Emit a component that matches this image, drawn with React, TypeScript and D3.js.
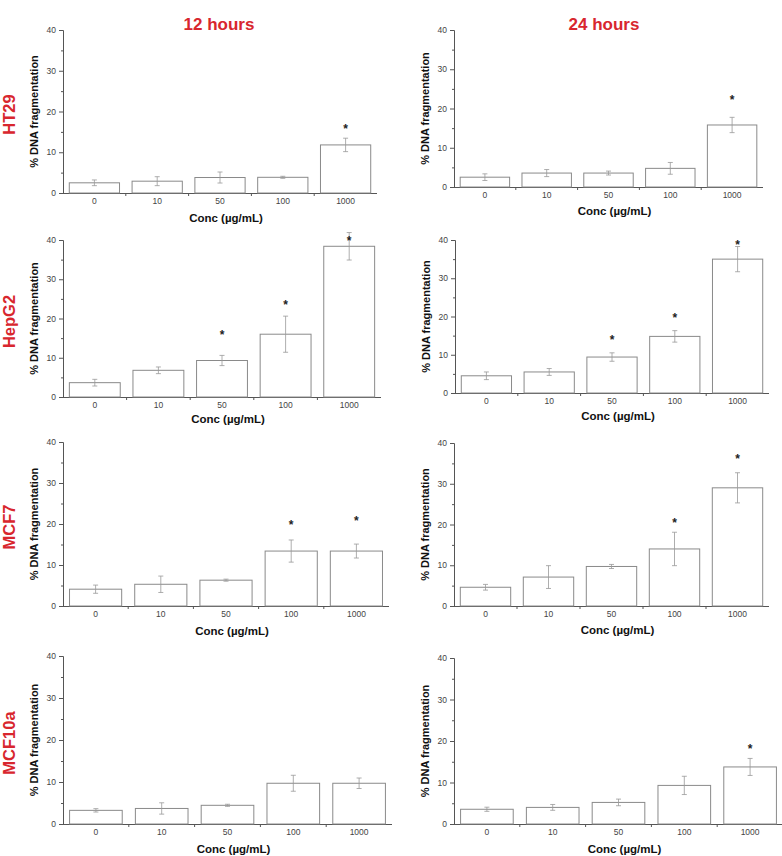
import React, { useEffect, useRef } from "react";
import * as d3 from "d3";

// concentrations (x categories)
const concs = ["0", "10", "50", "100", "1000"];
const timeTitles = ["12 hours", "24 hours"];
const cellLines = ["HT29", "HepG2", "MCF7", "MCF10a"];
const yTicks = [0, 10, 20, 30, 40];

// mean % DNA fragmentation, error (sd) and star position (null = none)
const ht29_12 = [2.5, 2.9, 3.8, 3.85, 11.8];
const ht29_12_err = [0.7, 1.1, 1.35, 0.25, 1.65];
const ht29_12_star = [null, null, null, null, 16];

const ht29_24 = [2.5, 3.55, 3.55, 4.75, 15.8];
const ht29_24_err = [0.85, 0.9, 0.5, 1.5, 1.95];
const ht29_24_star = [null, null, null, null, 22.5];

const hepg2_12 = [3.65, 6.8, 9.3, 16.0, 38.4];
const hepg2_12_err = [0.85, 0.85, 1.3, 4.6, 3.5];
const hepg2_12_star = [null, null, 16, 23.7, 40];

const hepg2_24 = [4.5, 5.5, 9.4, 14.8, 35.0];
const hepg2_24_err = [1.0, 0.9, 1.1, 1.5, 3.3];
const hepg2_24_star = [null, null, 14.1, 20, 39];

const mcf7_12 = [4.1, 5.3, 6.3, 13.4, 13.4];
const mcf7_12_err = [1.0, 2.0, 0.25, 2.7, 1.7];
const mcf7_12_star = [null, null, null, 20, 21];

const mcf7_24 = [4.6, 7.1, 9.7, 14.0, 29.0];
const mcf7_24_err = [0.7, 2.8, 0.5, 4.1, 3.7];
const mcf7_24_star = [null, null, null, 20.5, 36.2];

const mcf10a_12 = [3.25, 3.7, 4.45, 9.7, 9.7];
const mcf10a_12_err = [0.4, 1.35, 0.25, 1.9, 1.25];
const mcf10a_12_star = [null, null, null, null, null];

const mcf10a_24 = [3.55, 4.0, 5.2, 9.3, 13.75];
const mcf10a_24_err = [0.5, 0.7, 0.8, 2.2, 2.05];
const mcf10a_24_star = [null, null, null, null, 18.4];

// panel frames: x0, x1 (x axis), yTop (40), yBot (0), baseline of x label
const panels = [
  { vals: ht29_12, err: ht29_12_err, star: ht29_12_star, x0: 63, x1: 377, yTop: 30, yBot: 193, lab: 222 },
  { vals: ht29_24, err: ht29_24_err, star: ht29_24_star, x0: 454, x1: 763, yTop: 30, yBot: 187, lab: 215 },
  { vals: hepg2_12, err: hepg2_12_err, star: hepg2_12_star, x0: 63, x1: 381, yTop: 240, yBot: 397, lab: 423 },
  { vals: hepg2_24, err: hepg2_24_err, star: hepg2_24_star, x0: 455, x1: 769, yTop: 240, yBot: 393, lab: 420 },
  { vals: mcf7_12, err: mcf7_12_err, star: mcf7_12_star, x0: 63, x1: 389, yTop: 442, yBot: 606, lab: 635 },
  { vals: mcf7_24, err: mcf7_24_err, star: mcf7_24_star, x0: 454, x1: 769, yTop: 443, yBot: 606, lab: 634 },
  { vals: mcf10a_12, err: mcf10a_12_err, star: mcf10a_12_star, x0: 63, x1: 392, yTop: 656, yBot: 824, lab: 853 },
  { vals: mcf10a_24, err: mcf10a_24_err, star: mcf10a_24_star, x0: 454, x1: 783, yTop: 658, yBot: 824, lab: 853 },
];

const FONT = "Liberation Sans, Arial, Helvetica, sans-serif";
const RED = "#d8262e";
const AXIS = "#555";
const BAR = "#8a8a8a";

export default function App() {
  const ref = useRef<SVGSVGElement>(null);

  useEffect(() => {
    const svg = d3.select(ref.current);
    svg.selectAll("*").remove();

    // column titles
    svg.selectAll(".title")
      .data(timeTitles)
      .join("text")
      .attr("class", "title")
      .attr("x", (d, i) => (i === 0 ? 219 : 604))
      .attr("y", 30)
      .attr("text-anchor", "middle")
      .attr("font-family", FONT)
      .attr("font-weight", "bold")
      .attr("font-size", 17)
      .attr("fill", RED)
      .text((d) => d);

    panels.forEach((p, pi) => {
      const g = svg.append("g");
      const x = d3.scaleBand().domain(concs).range([p.x0, p.x1]).paddingInner(0.2).paddingOuter(0.1);
      const y = d3.scaleLinear().domain([0, 40]).range([p.yBot, p.yTop]);

      // y axis
      const ya = g.append("g").attr("transform", `translate(${p.x0},0)`)
        .call(d3.axisLeft(y).tickValues(yTicks).tickSize(4).tickPadding(3).tickFormat(d3.format("d")));
      g.append("g").attr("transform", `translate(${p.x0},0)`)
        .call(d3.axisLeft(y).tickValues([5, 15, 25, 35]).tickSize(2).tickFormat(() => ""))
        .call((s) => s.select(".domain").remove())
        .selectAll("line").attr("stroke", AXIS);

      // x axis
      const xa = g.append("g").attr("transform", `translate(0,${p.yBot})`)
        .call(d3.axisBottom(x).tickSize(0).tickPadding(5));
      const bounds = concs.slice(1).map((c) => (x(c) as number) - x.step() * 0.1);
      xa.selectAll(".bt").data(bounds).join("line").attr("class", "bt")
        .attr("x1", (d) => d).attr("x2", (d) => d).attr("y1", 0).attr("y2", 3);

      [ya, xa].forEach((a) => {
        a.selectAll("path,line").attr("stroke", AXIS);
        a.selectAll("text").attr("font-family", FONT).attr("font-size", 8.5).attr("fill", "#444");
      });
      xa.select(".domain").attr("d", `M${p.x0},0.5H${p.x1}`);

      // bars
      g.selectAll(".bar").data(p.vals).join("rect").attr("class", "bar")
        .attr("x", (d, i) => x(concs[i]) as number)
        .attr("width", x.bandwidth())
        .attr("y", (d) => y(d))
        .attr("height", (d) => p.yBot - y(d))
        .attr("fill", "#fff")
        .attr("stroke", BAR)
        .attr("stroke-width", 1);

      // error bars
      const cx = (i: number) => (x(concs[i]) as number) + x.bandwidth() / 2;
      const eb = g.selectAll(".eb").data(p.vals).join("g").attr("class", "eb")
        .attr("stroke", "#999").attr("stroke-width", 0.8);
      eb.append("line").attr("x1", (d, i) => cx(i)).attr("x2", (d, i) => cx(i))
        .attr("y1", (d, i) => y(d + p.err[i])).attr("y2", (d, i) => y(d - p.err[i]));
      eb.append("line").attr("x1", (d, i) => cx(i) - 2.5).attr("x2", (d, i) => cx(i) + 2.5)
        .attr("y1", (d, i) => y(d + p.err[i])).attr("y2", (d, i) => y(d + p.err[i]));
      eb.append("line").attr("x1", (d, i) => cx(i) - 2.5).attr("x2", (d, i) => cx(i) + 2.5)
        .attr("y1", (d, i) => y(d - p.err[i])).attr("y2", (d, i) => y(d - p.err[i]));

      // significance stars
      g.selectAll(".star").data(p.star.map((s, i) => ({ s, i })).filter((d) => d.s !== null))
        .join("text").attr("class", "star")
        .attr("x", (d) => cx(d.i))
        .attr("y", (d) => y(d.s as number) + 5)
        .attr("text-anchor", "middle")
        .attr("font-family", FONT)
        .attr("font-weight", "bold")
        .attr("font-size", 12)
        .attr("fill", "#222")
        .text("*");

      // axis labels
      const ymid = (p.yTop + p.yBot) / 2;
      g.append("text")
        .attr("transform", `translate(${p.x0 - 25},${ymid}) rotate(-90)`)
        .attr("text-anchor", "middle")
        .attr("font-family", FONT).attr("font-weight", "bold").attr("font-size", 11).attr("fill", "#111")
        .text("% DNA fragmentation");
      g.append("text")
        .attr("x", (p.x0 + p.x1) / 2 + 6).attr("y", p.lab)
        .attr("text-anchor", "middle")
        .attr("font-family", FONT).attr("font-weight", "bold").attr("font-size", 11.5).attr("fill", "#111")
        .text("Conc (µg/mL)");

      // row label (left column only)
      if (pi % 2 === 0) {
        g.append("text")
          .attr("transform", `translate(14.5,${ymid + 3}) rotate(-90)`)
          .attr("text-anchor", "middle")
          .attr("font-family", FONT).attr("font-weight", "bold").attr("font-size", 16.5).attr("fill", RED)
          .text(cellLines[pi / 2]);
      }
    });
  }, []);

  return (
    <svg ref={ref} width={782} height={856} style={{ position: "absolute", left: 0, top: 0, background: "#fff" }} />
  );
}
